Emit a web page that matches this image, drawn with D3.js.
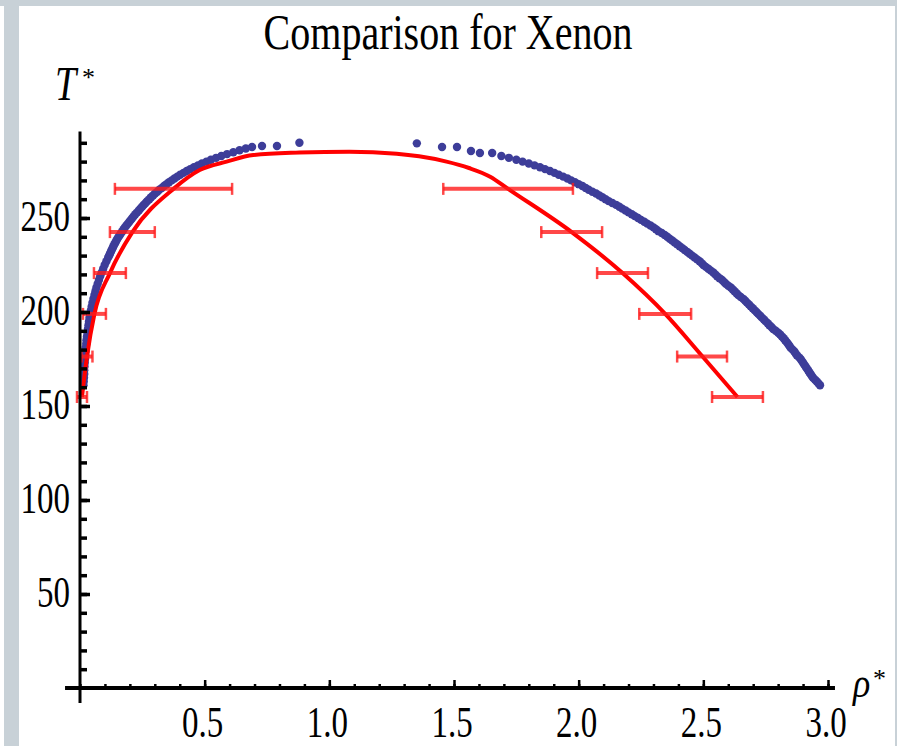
<!DOCTYPE html>
<html>
<head>
<meta charset="utf-8">
<script src="https://d3js.org/d3.v7.min.js"></script>
<style>
body { margin: 0; background: #fff; }
text { font-family: "Liberation Serif", "Times New Roman", serif; fill: #000; }
</style>
</head>
<body>
<script>
// simulation points, vapour side (rho*, T*)
var vapRho = [0.014,0.015,0.016,0.017,0.017,0.018,0.019,0.020,0.021,0.022,0.023,0.025,0.026,0.028,0.030,0.032,0.034,0.036,0.038,0.041,
              0.044,0.047,0.050,0.054,0.058,0.062,0.066,0.071,0.076,0.081,0.087,0.093,0.099,0.106,0.113,0.120,0.127,0.134,0.142,0.150,
              0.160,0.170,0.180,0.192,0.204,0.216,0.229,0.242,0.256,0.270,0.285,0.301,0.318,0.337,0.357,0.379,0.402,0.428,0.457,0.489,
              0.525,0.567,0.590,0.615,0.640,0.665,0.69,0.73,0.79,0.88];
var vapT   = [161,163,165,167,169,171,173,175,177,179,181,183,185,187,189,191,193,195,197,199,
              201,203,205,207,209,211,213,215,217,219,221,223,225,227,229,231,233,235,237,239,
              241,243,245,247,249,251,253,255,257,259,261,263,265,267,269,271,273,275,277,279,
              281,283,284,285,286,287,287.8,288.3,288.3,290];
var vapRho2 = [0.117,0.124,0.131,0.138,0.146,0.155,0.165,0.175,0.186,0.198,0.210,0.222,0.236,0.249,0.263,0.278,0.293,0.310,0.328,0.347,
               0.368,0.390,0.415,0.442,0.473,0.507,0.546];
var vapT2   = [230,232,234,236,238,240,242,244,246,248,250,252,254,256,258,260,262,264,266,268,
               270,272,274,276,278,280,282];

// simulation points, liquid side
var liqRho = [1.351,1.452,1.512,1.568,1.604,1.653,1.69,1.75,1.80,1.845,1.885,1.92,1.955,1.985,2.015,2.04,2.07,2.095,2.12,2.15,
              2.175,2.20,2.225,2.25,2.275,2.30,2.32,2.345,2.365,2.385,2.405,2.425,2.445,2.465,2.485,2.50,2.52,2.54,2.555,2.575,
              2.59,2.61,2.625,2.64,2.66,2.675,2.69,2.705,2.72,2.735,2.75,2.765,2.78,2.80,2.815,2.828,2.84,2.85,2.865,2.875,
              2.89,2.90,2.91,2.92,2.93,2.94,2.955,2.968];
var liqT   = [289.7,287.8,287.8,285.6,284.6,284.6,283,281,279,277,275,273,271,269,267,265,263,261,259,257,
              255,253,251,249,247,245,243,241,239,237,235,233,231,229,227,225,223,221,219,217,
              215,213,211,209,207,205,203,201,199,197,195,193,191,189,187,185,183,181,179,177,
              175,173,171,169,167,165,163,161];
var liqRho2 = [1.72,1.775,1.823,1.865,1.903,1.938,1.97,2.00,2.028,2.055,2.083,2.108,2.135,2.163,2.188,2.213,2.238,2.263,2.288,2.31,
               2.333,2.355,2.375,2.395,2.415,2.435,2.455,2.475,2.493,2.51,2.53,2.548,2.565,2.583,2.60,2.618,2.633,2.65,2.668,2.683,
               2.698,2.713,2.728,2.743,2.758,2.773,2.79,2.808,2.822,2.834,2.845,2.858,2.87,2.883,2.895,2.905,2.915,2.925,2.935,2.948,
               2.962];
var liqT2   = [282,280,278,276,274,272,270,268,266,264,262,260,258,256,254,252,250,248,246,244,
               242,240,238,236,234,232,230,228,226,224,222,220,218,216,214,212,210,208,206,204,
               202,200,198,196,194,192,190,188,186,184,182,180,178,176,174,172,170,168,166,164,
               162];

// experimental points with error bars
var expT      = [154.8, 176.3, 199, 220.7, 242.5, 265.5];
var expVapRho = [0.008, 0.028, 0.058, 0.12, 0.21, 0.375];
var expVapErr = [0.02, 0.022, 0.046, 0.064, 0.09, 0.235];
var expLiqRho = [2.637, 2.495, 2.347, 2.176, 1.972, 1.717];
var expLiqErr = [0.102, 0.1, 0.104, 0.102, 0.122, 0.26];

// red curve
var fitRho = [0.008,0.028,0.058,0.12,0.21,0.375,0.48,0.588,0.695,0.88,1.08,1.27,1.36,1.47,1.56,1.645,1.717,1.972,2.176,2.347,2.495,2.637];
var fitT   = [154.8,176.3,199,220.7,242.5,265.5,275.5,280,283.5,284.8,285.3,284.2,282.8,280,276.6,272,265.5,242.5,220.7,199,176.6,154.8];

var xMajor = [0.5, 1.0, 1.5, 2.0, 2.5, 3.0];
var xMinor = d3.range(-0.0, 3.01, 0.1);
var yMajor = [50, 100, 150, 200, 250];
var yMinor = d3.range(10, 291, 10);

var width = 897, height = 746;

var svg = d3.select("body").append("svg")
    .attr("width", width)
    .attr("height", height);

// window frame
svg.append("rect").attr("x", 4).attr("y", 0).attr("width", 15).attr("height", height).attr("fill", "#c8d1d7");
svg.append("rect").attr("x", 0).attr("y", 0).attr("width", width).attr("height", 6).attr("fill", "#c8d1d7");
svg.append("rect").attr("x", 895).attr("y", 0).attr("width", 2).attr("height", height).attr("fill", "#c8d1d7");

var x = d3.scaleLinear().domain([0, 3]).range([80, 828]);
var y = d3.scaleLinear().domain([0, 150]).range([688, 406]);

function pairs(rs, ts) { return rs.map(function(r, i) { return [r, ts[i]]; }); }

var sim = pairs(vapRho, vapT).concat(pairs(vapRho2, vapT2), pairs(liqRho, liqT), pairs(liqRho2, liqT2));

svg.append("g")
  .selectAll("circle")
  .data(sim)
  .enter()
  .append("circle")
    .attr("cx", function(d) { return x(d[0]); })
    .attr("cy", function(d) { return y(d[1]); })
    .attr("r", 4.2)
    .attr("fill", "#3d3d99");

// red line
var line = d3.line()
    .x(function(d) { return x(d[0]); })
    .y(function(d) { return y(d[1]); })
    .curve(d3.curveMonotoneX);

svg.append("path")
    .datum(pairs(fitRho, fitT))
    .attr("d", line)
    .attr("fill", "none")
    .attr("stroke", "#ff0000")
    .attr("stroke-width", 4)
    .attr("stroke-linejoin", "round");

// error bars
var bars = [];
expT.forEach(function(t, i) {
  bars.push({ t: t, c: expVapRho[i], e: expVapErr[i] });
  bars.push({ t: t, c: expLiqRho[i], e: expLiqErr[i] });
});

var eb = svg.append("g")
    .attr("stroke", "#ff1a1a")
    .attr("stroke-opacity", 0.8)
    .selectAll("g")
    .data(bars)
    .enter()
    .append("g");

eb.append("line")
    .attr("x1", function(d) { return x(d.c - d.e); })
    .attr("x2", function(d) { return x(d.c + d.e); })
    .attr("y1", function(d) { return y(d.t); })
    .attr("y2", function(d) { return y(d.t); })
    .attr("stroke-width", 4);
eb.selectAll(".cap")
    .data(function(d) { return [[d.c - d.e, d.t], [d.c + d.e, d.t]]; })
    .enter()
    .append("line")
    .attr("x1", function(d) { return x(d[0]); })
    .attr("x2", function(d) { return x(d[0]); })
    .attr("y1", function(d) { return y(d[1]) - 6; })
    .attr("y2", function(d) { return y(d[1]) + 6; })
    .attr("stroke-width", 2.5);

// axes
var fmt = d3.format(".1f");

svg.append("g")
    .attr("transform", "translate(" + x(0) + ",0)")
    .call(d3.axisLeft(y).tickValues(yMinor).tickSize(-7).tickFormat(""))
    .call(function(g) { g.select(".domain").remove(); })
    .selectAll("line").attr("stroke", "#000").attr("stroke-width", 3.5);

var yg = svg.append("g")
    .attr("transform", "translate(" + x(0) + ",0)")
    .call(d3.axisLeft(y).tickValues(yMajor).tickSize(-10).tickPadding(10))
    .call(function(g) { g.select(".domain").remove(); });
yg.selectAll("line").attr("stroke", "#000").attr("stroke-width", 3.5);
yg.selectAll("text")
    .attr("dy", null)
    .attr("y", 12 / 1.35)
    .attr("transform", "scale(1,1.35)")
    .style("font-size", "33px")
    .style("font-family", "Liberation Serif");

svg.append("g")
    .attr("transform", "translate(0," + y(0) + ")")
    .call(d3.axisBottom(x).tickValues(xMinor).tickSize(-4).tickFormat(""))
    .call(function(g) { g.select(".domain").remove(); })
    .selectAll("line").attr("stroke", "#000").attr("stroke-width", 2.5);

var xg = svg.append("g")
    .attr("transform", "translate(0," + y(0) + ")")
    .call(d3.axisBottom(x).tickValues(xMajor).tickSize(-8).tickFormat(fmt))
    .call(function(g) { g.select(".domain").remove(); });
xg.selectAll("line").attr("stroke", "#000").attr("stroke-width", 2.5);
xg.selectAll("text")
    .attr("dy", null)
    .attr("x", -2.5)
    .attr("y", 49 / 1.35)
    .attr("transform", "scale(1,1.35)")
    .style("font-size", "33px")
    .style("font-family", "Liberation Serif");

// axis lines
svg.append("line")
    .attr("x1", x(0)).attr("x2", x(0))
    .attr("y1", y(-8)).attr("y2", y(296))
    .attr("stroke", "#000").attr("stroke-width", 3);
svg.append("line")
    .attr("x1", x(-0.06)).attr("x2", x(3.028))
    .attr("y1", y(0)).attr("y2", y(0))
    .attr("stroke", "#000").attr("stroke-width", 4);

// labels
svg.append("text")
    .attr("transform", "translate(448,49) scale(1,1.28)")
    .attr("text-anchor", "middle")
    .style("font-size", "40px")
    .text("Comparison for Xenon");

svg.append("text")
    .attr("transform", "translate(55,100) scale(1,1.3)")
    .style("font-size", "38px")
    .style("font-style", "italic")
    .text("T");
svg.append("text")
    .attr("x", 82).attr("y", 86)
    .style("font-size", "26px")
    .text("*");

svg.append("text")
    .attr("transform", "translate(853,697) scale(1,1.15)")
    .style("font-size", "36px")
    .style("font-style", "italic")
    .text("ρ");
svg.append("text")
    .attr("x", 873).attr("y", 687)
    .style("font-size", "26px")
    .text("*");
</script>
</body>
</html>
